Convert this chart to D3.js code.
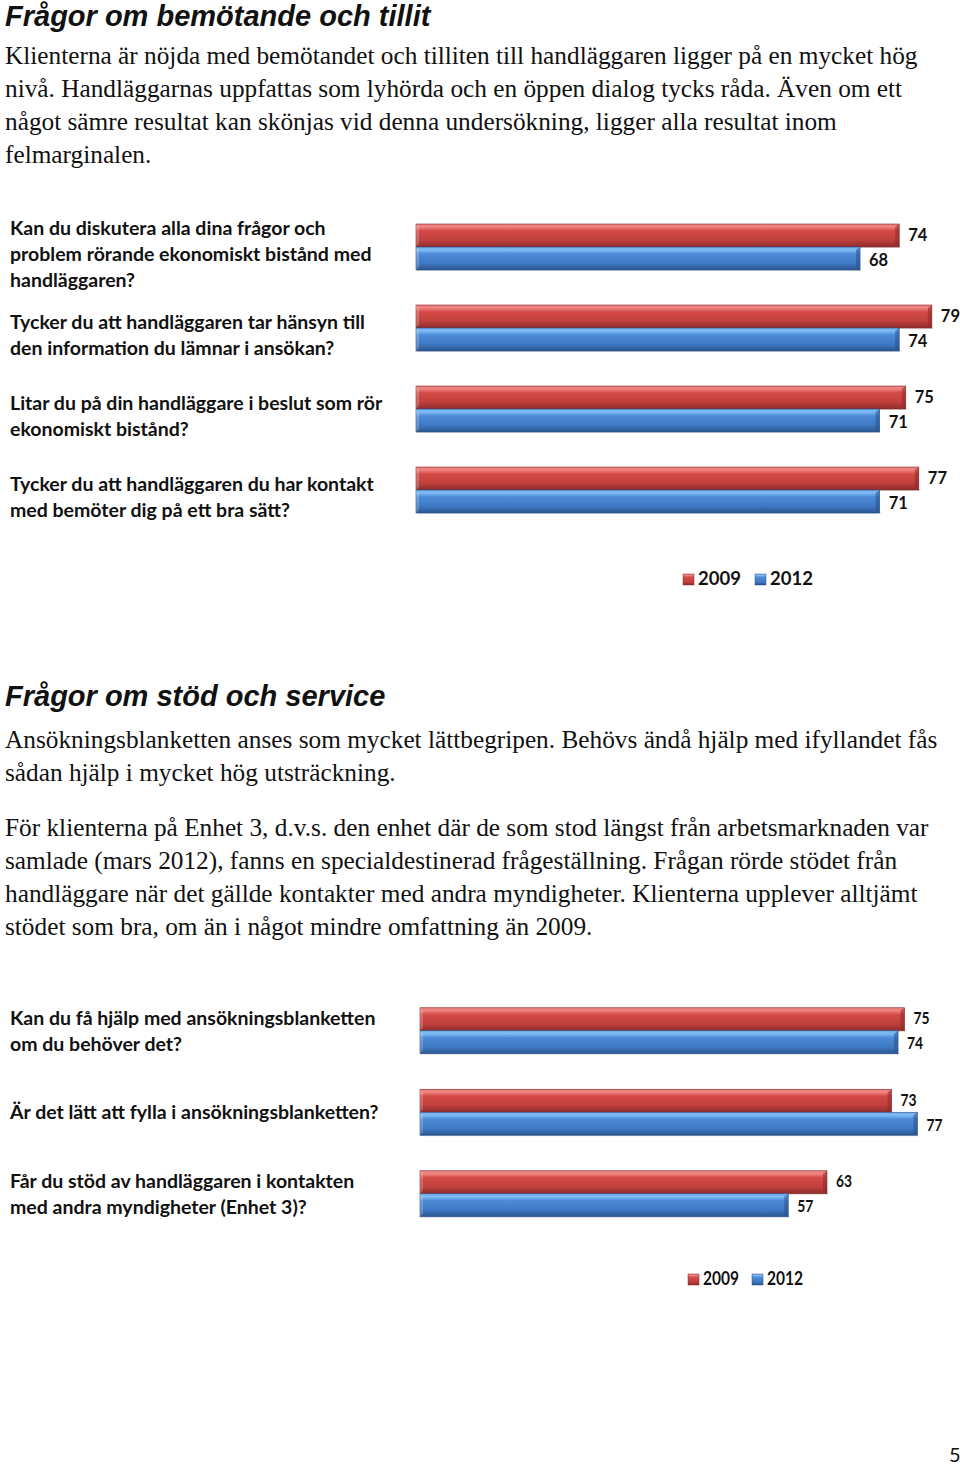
<!DOCTYPE html>
<html><head><meta charset="utf-8">
<script src="https://cdn.jsdelivr.net/npm/d3@7/dist/d3.min.js"></script>
<style>
html,body{margin:0;padding:0;background:#fff;}
svg{display:block;}
</style></head>
<body>
<svg id="page" width="960" height="1466"></svg>
<script>
// ---------- DATA ----------
const title1 = "Frågor om bemötande och tillit";
const para1 = [
  "Klienterna är nöjda med bemötandet och tilliten till handläggaren ligger på en mycket hög",
  "nivå. Handläggarnas uppfattas som lyhörda och en öppen dialog tycks råda. Även om ett",
  "något sämre resultat kan skönjas vid denna undersökning, ligger alla resultat inom",
  "felmarginalen."
];
const questions1 = [
  ["Kan du diskutera alla dina frågor och", "problem rörande ekonomiskt bistånd med", "handläggaren?"],
  ["Tycker du att handläggaren tar hänsyn till", "den information du lämnar i ansökan?"],
  ["Litar du på din handläggare i beslut som rör", "ekonomiskt bistånd?"],
  ["Tycker du att handläggaren du har kontakt", "med bemöter dig på ett bra sätt?"]
];
const values1_2009 = [74, 79, 75, 77];
const values1_2012 = [68, 74, 71, 71];

const title2 = "Frågor om stöd och service";
const para2a = [
  "Ansökningsblanketten anses som mycket lättbegripen. Behövs ändå hjälp med ifyllandet fås",
  "sådan hjälp i mycket hög utsträckning."
];
const para2b = [
  "För klienterna på Enhet 3, d.v.s. den enhet där de som stod längst från arbetsmarknaden var",
  "samlade (mars 2012), fanns en specialdestinerad frågeställning. Frågan rörde stödet från",
  "handläggare när det gällde kontakter med andra myndigheter. Klienterna upplever alltjämt",
  "stödet som bra, om än i något mindre omfattning än 2009."
];
const questions2 = [
  ["Kan du få hjälp med ansökningsblanketten", "om du behöver det?"],
  ["Är det lätt att fylla i ansökningsblanketten?"],
  ["Får du stöd av handläggaren i kontakten", "med andra myndigheter (Enhet 3)?"]
];
const values2_2009 = [75, 73, 63];
const values2_2012 = [74, 77, 57];

const seriesNames = ["2009", "2012"];
const pageNumber = "5";

// ---------- DRAW ----------
const svg = d3.select("#page");
const defs = svg.append("defs");

function grad(id, stops) {
  const g = defs.append("linearGradient").attr("id", id)
    .attr("x1", 0).attr("y1", 0).attr("x2", 0).attr("y2", 1);
  stops.forEach(([o, c]) => g.append("stop").attr("offset", o).attr("stop-color", c));
}
grad("gRed", [[0, "#e57a78"], [0.12, "#f08683"], [0.3, "#d44a47"], [0.7, "#c0403d"], [1, "#8e2c2a"]]);
grad("gBlue", [[0, "#6fa8e8"], [0.12, "#80bdf5"], [0.3, "#4d8bd8"], [0.7, "#3f79c4"], [1, "#2b568e"]]);
const colors = { "2009": "url(#gRed)", "2012": "url(#gBlue)" };
const edge = { "2009": "#8a2a28", "2012": "#2a528a" };

const titleFont = "'Liberation Sans', Arial, sans-serif";
const serif = "'Liberation Serif', 'Times New Roman', serif";
const labelFont = "Lato, 'Open Sans', sans-serif";

function textBlock(lines, x, y0, lh, size) {
  lines.forEach((t, i) => {
    svg.append("text").attr("x", x).attr("y", y0 + i * lh)
      .attr("font-family", serif).attr("font-size", size).attr("fill", "#111").text(t);
  });
}
function title(t, x, y) {
  svg.append("text").attr("x", x).attr("y", y)
    .attr("font-family", titleFont).attr("font-size", 29).attr("font-weight", "bold")
    .attr("font-style", "italic").attr("fill", "#111").text(t);
}

title(title1, 5, 26);
textBlock(para1, 5, 64, 33, 25.3);
title(title2, 5, 706);
textBlock(para2a, 5, 748, 33, 25.3);
textBlock(para2b, 5, 836, 33, 25.3);

function chart(opts) {
  const { questions, v09, v12, x0, unit, yTop, step, legendX, legendY, legendStep, squeeze, labelShift } = opts;
  const n = questions.length;
  const x = d3.scaleLinear().domain([0, 80]).range([x0, x0 + unit * 80]);
  const y = d3.scaleBand().domain(d3.range(n)).range([yTop, yTop + step * n]);
  const ys = d3.scaleBand().domain(seriesNames).range([-23, 23]);
  const g = svg.append("g");

  function numText(sel, tx, ty, size) {
    return sel.append("text")
      .attr("transform", `translate(${tx},${ty}) scale(${squeeze},1)`)
      .attr("font-family", labelFont).attr("font-weight", "bold")
      .attr("font-size", size).attr("fill", "#111");
  }

  questions.forEach((lines, i) => {
    const cy = y(i) + y.bandwidth() / 2;
    const lh = 26;
    const first = cy - (lines.length - 1) * lh / 2 + 6 + labelShift;
    lines.forEach((t, k) => {
      g.append("text").attr("x", 10).attr("y", first + k * lh)
        .attr("font-family", labelFont).attr("font-weight", "bold")
        .attr("font-size", 19.5).attr("fill", "#111").text(t);
    });
    const rows = [["2009", v09[i]], ["2012", v12[i]]];
    rows.forEach(([s, v]) => {
      const by = cy + ys(s);
      const bh = ys.bandwidth();
      const xe = x(v);
      g.append("rect").attr("x", x(0) + 1).attr("y", by + bh - 1).attr("width", xe - x(0))
        .attr("height", 2).attr("fill", "#000").attr("opacity", 0.12);
      g.append("rect").attr("x", x(0)).attr("y", by).attr("width", xe - x(0)).attr("height", bh)
        .attr("fill", colors[s]).attr("stroke", edge[s]).attr("stroke-width", 0.6);
      g.append("path")
        .attr("d", `M${xe - 4},${by + 3} L${xe},${by} L${xe},${by + bh} L${xe - 4},${by + bh - 3} Z`)
        .attr("fill", edge[s]).attr("opacity", 0.55);
      g.append("path")
        .attr("d", `M${x(0)},${by} L${x(0) + 3},${by + 3} L${x(0) + 3},${by + bh - 3} L${x(0)},${by + bh} Z`)
        .attr("fill", "#fff").attr("opacity", 0.2);
      numText(g, xe + 9, by + bh / 2 + 6 + (s === "2009" ? -1 : 1), 16.5).text(v);
    });
  });

  // legend
  let lx = legendX;
  seriesNames.forEach((s) => {
    g.append("rect").attr("x", lx).attr("y", legendY - 11).attr("width", 11).attr("height", 11)
      .attr("fill", colors[s]).attr("stroke", edge[s]).attr("stroke-width", 0.5);
    numText(g, lx + 15, legendY, 18.5).text(s);
    lx += legendStep;
  });
}

chart({ questions: questions1, v09: values1_2009, v12: values1_2012,
  x0: 416, unit: 6.53, yTop: 206.5, step: 81, legendX: 683, legendY: 585, legendStep: 72,
  squeeze: 1, labelShift: 8 });
chart({ questions: questions2, v09: values2_2009, v12: values2_2012,
  x0: 420, unit: 6.46, yTop: 990, step: 81.5, legendX: 688, legendY: 1285, legendStep: 64,
  squeeze: 0.84, labelShift: 1 });

svg.append("text").attr("x", 949).attr("y", 1462).attr("font-family", labelFont)
  .attr("font-size", 20).attr("fill", "#111").text(pageNumber);
</script>
</body></html>
